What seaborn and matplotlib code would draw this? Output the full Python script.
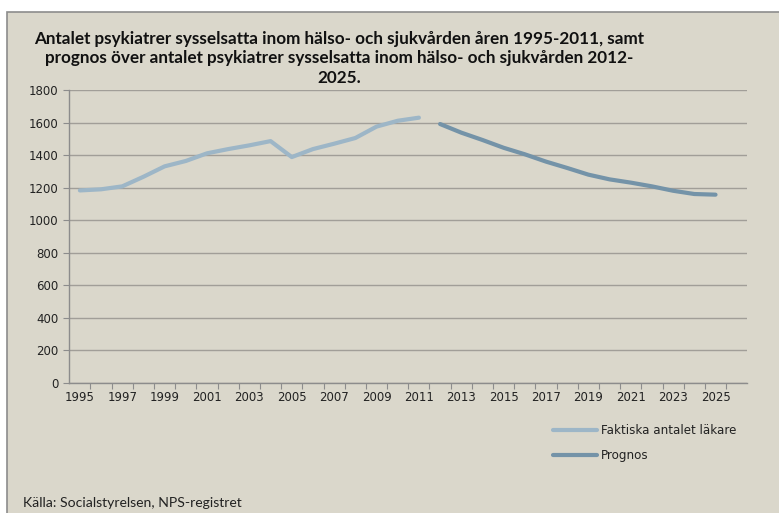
import numpy as np
import pandas as pd
import matplotlib
matplotlib.use("Agg")
import matplotlib.pyplot as plt
from matplotlib.patches import Rectangle
import seaborn as sns

# Data
years_actual = list(range(1995, 2012))
actual = [1183, 1190, 1208, 1267, 1331, 1364, 1411, 1437, 1460, 1486,
          1388, 1437, 1470, 1505, 1575, 1611, 1630]

years_forecast = list(range(2012, 2026))
forecast = [1591, 1538, 1493, 1445, 1405, 1360, 1321, 1280, 1251, 1231,
            1208, 1181, 1161, 1157]

tick_years = list(range(1995, 2026, 2))
y_ticks = list(range(0, 1801, 200))

title = ("Antalet psykiatrer sysselsatta inom hälso- och sjukvården åren 1995-2011, samt\n"
         "prognos över antalet psykiatrer sysselsatta inom hälso- och sjukvården 2012-\n"
         "2025.")
source = "Källa: Socialstyrelsen, NPS-registret"

bg = "#DAD7CB"
c_actual = "#9DB6C7"
c_forecast = "#7493A8"

sns.set_theme(style="white")
plt.rcParams['font.family'] = ['DejaVu Sans']

df = pd.concat([
    pd.DataFrame({'År': years_actual, 'Antal': actual, 'Serie': 'Faktiska antalet läkare'}),
    pd.DataFrame({'År': years_forecast, 'Antal': forecast, 'Serie': 'Prognos'}),
])

fig = plt.figure(figsize=(7.79, 5.13), dpi=100)
fig.patch.set_facecolor('white')
# chart area frame (left/top border visible only)
frame = Rectangle((7 / 779, -0.05), 1.05, 1 - 12 / 513 + 0.05,
                  transform=fig.transFigure, facecolor=bg,
                  edgecolor='#8C8C8C', linewidth=1.2, zorder=-10)
fig.patches.append(frame)

ax = fig.add_axes([69.3 / 779, 130 / 513, 678 / 779, 293 / 513])
ax.set_facecolor(bg)

sns.lineplot(data=df, x='År', y='Antal', hue='Serie',
             palette={'Faktiska antalet läkare': c_actual, 'Prognos': c_forecast},
             linewidth=3, ax=ax, legend=False)

ax.set_xlim(1994.5, 2026.5)
ax.set_ylim(0, 1800)
ax.set_yticks(y_ticks)
ax.set_xticks(tick_years)
ax.set_xticks(np.arange(1995.5, 2026.5, 1), minor=True)
ax.tick_params(axis='x', which='major', length=0, pad=6, labelsize=8.5, labelcolor='#222222')
ax.tick_params(axis='x', which='minor', length=4, width=0.8, color='#8C8C8C', direction='out', bottom=True)
ax.tick_params(axis='y', length=4, width=0.8, color='#8C8C8C', direction='out', left=True,
               labelsize=8.5, labelcolor='#222222', pad=4)
ax.set_xlabel('')
ax.set_ylabel('')
ax.yaxis.grid(True, color='#A19E98', linewidth=1)
ax.set_axisbelow(True)
for s in ['top', 'right']:
    ax.spines[s].set_visible(False)
for s in ['left', 'bottom']:
    ax.spines[s].set_color('#8C8C8C')
    ax.spines[s].set_linewidth(1)

fig.text(339 / 779, 1 - 31 / 513, title, ha='center', va='top', fontsize=12.3,
         fontweight='bold', family=['Lato', 'DejaVu Sans'], linespacing=1.26, color='#111111')

# legend drawn by hand to the right, like the original
for yy, col, lab in [(430, c_actual, 'Faktiska antalet läkare'), (455, c_forecast, 'Prognos')]:
    fy = 1 - yy / 513
    fig.add_artist(plt.Line2D([553 / 779, 597 / 779], [fy, fy], color=col, linewidth=3,
                              transform=fig.transFigure))
    fig.text(601 / 779, fy, lab, ha='left', va='center', fontsize=8.6, color='#222222')

fig.text(23 / 779, 1 - 503 / 513, source, ha='left', va='center', fontsize=10.1,
         family=['Lato', 'DejaVu Sans'], color='#222222')

fig.savefig('out.png', dpi=100, facecolor=fig.get_facecolor())
